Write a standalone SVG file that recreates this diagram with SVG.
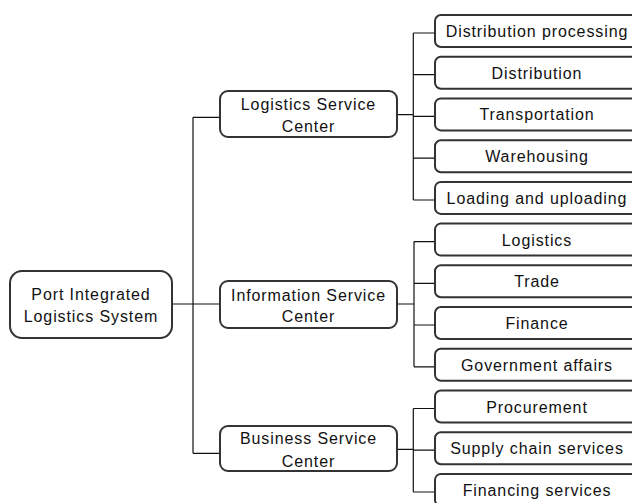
<svg xmlns="http://www.w3.org/2000/svg" width="632" height="503" viewBox="0 0 632 503">
<style>
.box{fill:#fff;stroke:#333;stroke-width:2}
.t{font-family:"Liberation Sans",Arial,sans-serif;font-size:16px;letter-spacing:0.9px;fill:#111;text-anchor:middle}
.c{fill:none;stroke:#111;stroke-width:1.2}
</style>
<rect width="632" height="503" fill="#fff"/>
<g id="connectors">
<path class="c" d="M172,304 H220 M193,117.3 V453.3 M193,117.3 H220 M193,453.3 H220"/>
<path class="c" d="M397,114.7 H413.3 M413.3,33 V200 M413.3,33 H435 M413.3,74.7 H435 M413.3,116.4 H435 M413.3,158.2 H435 M413.3,200 H435"/>
<path class="c" d="M397,304 H414 M414,241.6 V366.8 M414,241.6 H435 M414,283.3 H435 M414,325 H435 M414,366.8 H435"/>
<path class="c" d="M397,449.3 H413.3 M413.3,408.5 V492 M413.3,408.5 H435 M413.3,450.2 H435 M413.3,492 H435"/>
</g>
<g id="root"><rect class="box" x="10" y="271" width="162" height="67" rx="12"/><text class="t" x="91" y="300">Port Integrated</text><text class="t" x="91" y="321.7">Logistics System</text></g>
<g id="lsc"><rect class="box" x="220" y="91" width="177" height="46" rx="8"/><text class="t" x="308.5" y="110">Logistics Service</text><text class="t" x="308.5" y="131.7">Center</text></g>
<g id="isc"><rect class="box" x="220" y="281" width="177" height="47" rx="8"/><text class="t" x="308.5" y="301">Information Service</text><text class="t" x="308.5" y="321.7">Center</text></g>
<g id="bsc"><rect class="box" x="220" y="426" width="177" height="45" rx="8"/><text class="t" x="308.5" y="444">Business Service</text><text class="t" x="308.5" y="466.7">Center</text></g>
<g id="c1"><rect class="box" x="435" y="15" width="204" height="32" rx="6"/><text class="t" x="537" y="37">Distribution processing</text></g>
<g id="c2"><rect class="box" x="435" y="56.7" width="204" height="32" rx="6"/><text class="t" x="537" y="78.7">Distribution</text></g>
<g id="c3"><rect class="box" x="435" y="98.4" width="204" height="32" rx="6"/><text class="t" x="537" y="120.4">Transportation</text></g>
<g id="c4"><rect class="box" x="435" y="140.2" width="204" height="32" rx="6"/><text class="t" x="537" y="162.2">Warehousing</text></g>
<g id="c5"><rect class="box" x="435" y="181.9" width="204" height="32" rx="6"/><text class="t" x="537" y="203.9">Loading and uploading</text></g>
<g id="c6"><rect class="box" x="435" y="223.6" width="204" height="32" rx="6"/><text class="t" x="537" y="245.6">Logistics</text></g>
<g id="c7"><rect class="box" x="435" y="265.3" width="204" height="32" rx="6"/><text class="t" x="537" y="287.3">Trade</text></g>
<g id="c8"><rect class="box" x="435" y="307" width="204" height="32" rx="6"/><text class="t" x="537" y="329">Finance</text></g>
<g id="c9"><rect class="box" x="435" y="348.8" width="204" height="32" rx="6"/><text class="t" x="537" y="370.8">Government affairs</text></g>
<g id="c10"><rect class="box" x="435" y="390.5" width="204" height="32" rx="6"/><text class="t" x="537" y="412.5">Procurement</text></g>
<g id="c11"><rect class="box" x="435" y="432.2" width="204" height="32" rx="6"/><text class="t" x="537" y="454.2">Supply chain services</text></g>
<g id="c12"><rect class="box" x="435" y="473.9" width="204" height="32" rx="6"/><text class="t" x="537" y="495.9">Financing services</text></g>
</svg>
